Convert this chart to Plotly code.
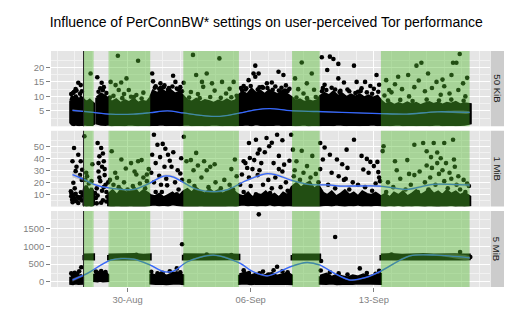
import datetime as dt
import plotly.graph_objects as go
from plotly.subplots import make_subplots

# ---------------- data (time t = day number: Aug d -> d, Sep d -> 31 + d) ----------------
BASE = dt.datetime(2011, 7, 31)

panel_labels = ["50 KiB", "1 MiB", "5 MiB"]
x_range = [25.65, 50.6]
y_ranges = [[-0.3, 25.65], [-0.2, 62.9], [-140, 1984]]
y_ticks = [[5, 10, 15, 20], [10, 20, 30, 40, 50], [0, 500, 1000, 1500]]
y_minor = [[2.5, 7.5, 12.5, 17.5, 22.5], [5, 15, 25, 35, 45, 55], [250, 750, 1250, 1750]]

# periods with PerConnBW settings active (green)
rect_start = [27.5, 28.92, 33.17, 39.35, 44.40]
rect_end = [28.07, 31.29, 36.33, 40.92, 49.44]
vline_t = 27.5

# ---- 50 KiB: dense cluster envelope (None = gap) ----
kb50_band_t = [26.77, 26.85, 26.95, 27.05, 27.15, 27.25, 27.35, 27.45, 27.55, 27.7, 27.85, 28.0, 28.07, None,
               28.25, 28.5, 28.75, 28.92, 29.1, 29.35, 29.6, 29.85, 30.1, 30.35, 30.6, 30.85, 31.1, 31.3,
               31.45, 31.7, 31.95, 32.2, 32.45, 32.7, 32.95, 33.17, 33.4, 33.65, 33.9, 34.15, 34.4, 34.65,
               34.9, 35.15, 35.4, 35.65, 35.9, 36.15, 36.35, 36.55, 36.8, 37.05, 37.3, 37.55, 37.8, 38.05,
               38.3, 38.55, 38.8, 39.05, 39.35, 39.55, 39.8, 40.05, 40.3, 40.55, 40.8, 40.95, 41.2, 41.45,
               41.7, 41.95, 42.2, 42.45, 42.7, 42.95, 43.2, 43.45, 43.7, 43.95, 44.2, 44.4, 44.65, 44.9,
               45.15, 45.4, 45.65, 45.9, 46.15, 46.4, 46.65, 46.9, 47.15, 47.4, 47.65, 47.9, 48.15, 48.4,
               48.65, 48.9, 49.15, 49.48]
kb50_band_hi = [8.5, 10.0, 9.0, 10.5, 9.5, 8.0, 9.8, 9.0, 8.5, 8.0, 8.7, 7.8, 7.5, None,
                9.5, 10.8, 10.0, 9.0, 8.0, 8.8, 7.5, 8.5, 7.8, 9.0, 7.6, 8.3, 7.9, 9.5,
                11.8, 11.0, 12.2, 11.2, 12.0, 10.8, 11.5, 10.0, 8.5, 8.0, 9.0, 7.8, 8.6, 8.2,
                7.6, 8.4, 7.9, 8.8, 8.0, 8.5, 10.5, 11.5, 10.5, 12.5, 11.0, 11.8, 10.6, 12.0,
                11.2, 10.5, 11.8, 10.8, 9.5, 8.2, 8.8, 7.9, 8.5, 8.0, 8.6, 10.0, 11.0, 10.2,
                11.5, 10.0, 10.8, 9.6, 10.5, 9.8, 10.6, 9.5, 10.2, 9.4, 10.0, 8.5, 7.2, 7.8,
                6.9, 7.5, 7.0, 7.8, 7.1, 7.6, 6.8, 7.4, 7.9, 7.2, 7.7, 7.0, 7.6, 7.3,
                7.9, 7.1, 7.5, 7.2]
kb50_band_lo = [1.0, 0.4, 0.2, 0.5, 0.3, 0.2, 0.4, 0.3, 0.5, 0.3, 0.4, 0.3, 0.6, None,
                0.8, 0.4, 0.3, 0.5, 0.2, 0.4, 0.3, 0.2, 0.5, 0.3, 0.2, 0.4, 0.3, 0.2,
                0.4, 0.3, 0.5, 0.2, 0.3, 0.4, 0.2, 0.3, 0.5, 0.2, 0.3, 0.4, 0.2, 0.3,
                0.5, 0.3, 0.2, 0.4, 0.3, 0.2, 0.4, 0.3, 0.5, 0.2, 0.6, 0.3, 0.2, 0.4,
                0.3, 0.5, 0.2, 0.3, 0.4, 0.2, 0.3, 0.5, 0.2, 0.4, 0.3, 0.2, 0.4, 0.3,
                0.2, 0.5, 0.3, 0.2, 0.4, 0.3, 0.2, 0.4, 0.3, 0.5, 0.2, 0.3, 0.4, 0.2,
                0.3, 0.5, 0.2, 0.3, 0.4, 0.2, 0.3, 0.4, 0.2, 0.3, 0.5, 0.2, 0.3, 0.4,
                0.2, 0.3, 0.4, 0.8]
# 50 KiB: scattered measurements above the cluster
kb50_t = [27.2, 27.34, 27.05, 27.4, 26.9, 27.9, 28.28, 28.53, 28.45, 28.65, 29.45, 30.6, 29.94, 29.64,
          29.04, 29.32, 29.5, 30.07, 30.36, 30.5, 29.8, 30.9, 29.2, 31.4, 31.87, 32.59, 32.72, 33.19,
          31.6, 31.45, 32.1, 32.35, 33.0, 33.72, 35.22, 33.9, 34.5, 34.23, 34.3, 34.8, 35.37, 36.03,
          33.6, 34.0, 34.95, 35.6, 35.8, 36.2, 37.16, 37.26, 36.88, 37.26, 37.45, 37.92, 38.58, 38.86,
          36.6, 37.7, 38.2, 38.4, 39.0, 39.2, 36.45, 39.9, 40.47, 39.52, 40.19, 39.7, 40.0, 40.6,
          41.04, 41.5, 41.7, 41.98, 41.35, 41.98, 41.2, 41.6, 42.3, 42.5, 42.87, 43.02, 43.5, 43.3,
          43.8, 44.15, 44.0, 44.3, 44.87, 45.38, 45.95, 46.42, 46.7, 47.08, 47.56, 48.5, 48.69, 48.88,
          48.41, 49.07, 44.6, 45.0, 45.6, 46.0, 46.3, 46.9, 47.3, 47.8, 48.0, 48.3, 48.8, 49.2,
          45.2, 46.55, 47.9, 44.7, 49.3, 31.9, 32.8, 36.7, 37.5, 38.95, 41.1, 42.1, 43.1,
          26.8, 26.95, 27.1, 27.3, 28.35, 28.6, 28.8, 31.55, 31.8, 32.05, 32.3, 32.55, 32.9, 33.1,
          36.5, 36.75, 37.0, 37.4, 37.65, 37.95, 38.25, 38.6, 38.75, 39.1, 41.05, 41.3, 41.8, 42.05,
          42.6, 42.95, 43.25, 43.6, 43.9, 44.25, 29.0, 29.7, 30.2, 30.8, 33.5, 34.1, 34.7, 35.3,
          35.9, 39.6, 40.2, 40.7, 44.8, 45.5, 46.2, 47.0, 47.7, 48.4, 49.1]
kb50_v = [14.7, 13.9, 12.5, 11.8, 11.2, 17.9, 16.6, 14.7, 12.8, 13.2, 24.0, 22.3, 16.2, 14.8,
          15.0, 13.9, 12.2, 12.2, 9.8, 10.5, 10.8, 11.3, 10.2, 17.9, 14.5, 17.1, 15.0, 14.7,
          13.5, 15.2, 13.8, 12.9, 13.2, 24.3, 23.1, 17.4, 17.9, 15.0, 13.3, 14.5, 15.0, 15.0,
          11.5, 10.8, 12.0, 11.0, 12.6, 10.2, 17.9, 16.8, 15.6, 20.6, 17.9, 14.5, 18.5, 17.4,
          13.6, 13.0, 14.8, 13.4, 13.8, 12.6, 12.9, 21.7, 17.9, 16.2, 14.5, 12.5, 11.0, 12.3,
          23.5, 23.7, 22.9, 21.2, 19.1, 16.2, 14.0, 13.0, 14.8, 12.4, 20.6, 15.0, 15.0, 12.8,
          13.6, 17.4, 12.6, 14.0, 12.2, 16.8, 17.4, 20.6, 21.6, 17.9, 15.0, 21.6, 21.6, 24.6,
          17.4, 14.5, 10.3, 11.4, 12.5, 10.0, 13.2, 11.8, 12.9, 10.6, 13.5, 11.0, 12.2, 10.0,
          14.2, 15.5, 15.8, 15.6, 16.4, 13.0, 12.7, 12.4, 13.1, 12.0, 12.9, 11.9, 11.6,
          10.8, 11.5, 12.0, 10.9, 11.6, 12.1, 11.2, 13.0, 12.6, 13.2, 12.3, 13.4, 12.5, 11.8,
          12.2, 12.8, 13.6, 12.4, 13.2, 12.9, 12.3, 12.0, 13.0, 11.9, 11.8, 12.2, 12.4, 11.5,
          11.8, 11.2, 11.9, 11.4, 10.9, 11.6, 9.6, 9.4, 9.9, 9.3, 9.6, 9.4, 9.8, 9.5,
          9.7, 9.6, 9.4, 9.8, 8.6, 8.8, 8.4, 8.9, 8.6, 8.9, 8.5]
kb50_smooth_t = [26.87, 27.9, 29.04, 30.34, 31.3, 32.27, 33.17, 34.14, 34.88, 35.6, 36.4, 37.26,
                 38.1, 39.24, 40.77, 42.64, 44.34, 45.87, 47.57, 49.44]
kb50_smooth_v = [5.2, 4.6, 3.9, 3.9, 4.4, 5.0, 4.3, 3.5, 3.1, 3.4, 4.3, 5.4,
                 5.8, 5.1, 4.8, 4.4, 4.1, 3.9, 4.7, 4.5]
kb50_smooth_se = [0.35, 0.2, 0.15, 0.15, 0.15, 0.15, 0.15, 0.15, 0.15, 0.15, 0.15, 0.15,
                  0.15, 0.15, 0.15, 0.15, 0.15, 0.15, 0.2, 0.3]

# ---- 1 MiB ----
mib1_band_t = [27.52, 27.65, 27.8, 27.95, 28.07, None,
               28.92, 29.15, 29.4, 29.65, 29.9, 30.15, 30.4, 30.65, 30.9, 31.15, 31.3, 31.55, 31.8,
               32.05, 32.3, 32.55, 32.8, 33.05, 33.17, 33.4, 33.65, 33.9, 34.15, 34.4, 34.65, 34.9,
               35.15, 35.4, 35.65, 35.9, 36.15, 36.35, 36.6, 36.85, 37.1, 37.35, 37.6, 37.85, 38.1,
               38.35, 38.6, 38.85, 39.1, 39.35, 39.6, 39.85, 40.1, 40.35, 40.6, 40.85, 41.1, 41.35,
               41.6, 41.85, 42.1, 42.35, 42.6, 42.85, 43.1, 43.35, 43.6, 43.85, 44.1, 44.4, 44.65,
               44.9, 45.15, 45.4, 45.65, 45.9, 46.15, 46.4, 46.65, 46.9, 47.15, 47.4, 47.65, 47.9,
               48.15, 48.4, 48.65, 48.9, 49.15, 49.45]
mib1_band_hi = [14, 17, 12, 15, 11, None,
                10, 13, 9, 14, 11, 12, 15, 10, 13, 11, 9, 8, 10,
                7, 9, 11, 8, 10, 12, 14, 11, 15, 12, 10, 14, 11,
                13, 10, 12, 15, 11, 9, 8, 11, 7, 10, 9, 12, 8,
                10, 7, 11, 9, 16, 19, 15, 18, 20, 14, 17, 11, 9,
                12, 8, 10, 13, 9, 11, 8, 12, 10, 9, 11, 8, 10,
                7, 11, 9, 12, 8, 10, 13, 9, 11, 14, 10, 12, 9,
                13, 10, 12, 9, 11, 8]
mib1_band_lo = [1.5, 0.8, 1.2, 0.6, 1.8, None,
                1.0, 0.5, 1.2, 0.7, 0.4, 1.1, 0.6, 0.9, 0.5, 1.2, 1.5, 2.0, 1.2,
                1.8, 1.0, 2.2, 1.4, 0.8, 0.6, 0.4, 0.9, 0.5, 1.1, 0.6, 0.8, 0.4,
                1.0, 0.5, 0.7, 1.2, 0.6, 1.5, 2.0, 1.1, 1.8, 0.9, 1.6, 1.2, 2.1,
                1.0, 1.7, 0.8, 1.4, 0.6, 0.4, 0.9, 0.5, 1.0, 0.7, 0.4, 1.3, 1.8,
                1.0, 2.0, 1.2, 0.8, 1.6, 1.1, 1.9, 0.9, 1.4, 1.0, 1.7, 1.2, 0.8,
                1.5, 1.0, 1.8, 0.7, 1.3, 0.9, 1.6, 1.1, 0.8, 1.4, 1.0, 0.6, 1.2,
                0.9, 1.5, 0.7, 1.1, 0.8, 1.3]
mib1_t = [26.8, 26.82, 26.85, 26.9, 26.95, 26.78, 26.88, 27.0, 27.05, 27.1, 27.15, 27.2, 27.3, 27.35,
          27.4, 27.45, 27.25, 26.92, 26.96, 27.2, 26.87, 27.34, 27.05, 27.3, 27.1, 27.4, 27.0, 27.42,
          27.55, 27.6, 27.7, 27.8, 27.95, 28.0, 27.65,
          28.3, 28.5, 28.4, 28.65, 28.55, 28.35, 28.7, 28.45, 28.75, 28.3, 28.6, 28.2, 28.8, 28.25,
          28.5, 28.85, 28.15, 28.4, 28.7, 28.6, 28.35, 28.9, 28.8, 28.55, 28.25, 28.65,
          29.1, 29.65, 30.6, 30.2, 30.8, 29.9, 30.4, 29.4, 30.5, 31.1, 31.1, 29.2, 29.5, 29.8, 30.0,
          30.3, 30.7, 31.0, 29.3, 29.0, 30.9, 31.2,
          31.5, 31.7, 31.4, 32.0, 32.3, 32.4, 32.6, 31.6, 32.1, 32.5, 31.8, 32.2, 32.25, 31.95, 32.4,
          32.3, 32.8, 33.0, 31.35, 31.5, 31.9, 32.7, 32.9, 33.1, 31.6, 32.0, 32.6, 31.4, 32.85, 33.05,
          32.15, 31.85,
          33.2, 33.9, 33.35, 33.6, 34.0, 34.35, 34.7, 34.95, 33.75, 34.5, 36.1, 35.9, 34.2, 33.5, 35.0,
          35.5, 35.8, 36.2, 33.8, 34.6, 35.3, 36.0,
          36.9, 37.3, 37.9, 38.5, 39.3, 38.2, 38.8, 38.05, 37.5, 37.4, 36.95, 37.2, 36.7, 37.6, 38.3,
          38.9, 36.6, 36.8, 37.1, 37.5, 38.6, 38.8, 39.2, 36.5, 36.9, 37.4, 38.0, 38.4, 39.0, 36.4,
          37.0, 37.7, 38.2, 38.7, 39.1, 36.6, 37.3, 38.1, 38.9, 37.8, 38.6,
          39.4, 39.9, 40.5, 39.6, 40.2, 39.5, 40.0, 40.7, 40.4, 39.8, 40.85, 39.45,
          40.95, 41.2, 41.5, 41.9, 42.2, 41.1, 40.95, 41.6, 42.0, 42.3, 42.87, 42.45, 43.3, 43.6, 43.8,
          44.0, 44.2, 43.4, 43.7, 42.5, 42.4, 42.8, 43.1, 43.5, 44.1, 44.3, 41.4, 41.8, 42.6, 43.9,
          44.25, 44.35,
          44.55, 44.5, 45.2, 45.9, 46.3, 46.8, 47.4, 48.0, 48.5, 47.0, 47.6, 47.25, 47.8, 48.1, 47.0,
          47.3, 46.6, 46.3, 47.9, 48.3, 48.6, 48.8, 49.1, 49.3, 44.8, 45.1, 45.5, 45.8, 46.1, 46.5,
          46.9, 47.2, 47.5, 47.7, 48.0, 48.2, 48.4, 48.7, 48.9, 49.2, 49.4, 45.3, 44.7, 45.6, 46.0,
          47.1, 48.55, 47.6]
mib1_v = [8.5, 11, 5.5, 7.2, 9.5, 12.5, 3.5, 6, 10.5, 4.2, 8, 2.8, 7.5, 11.8,
          5, 9.2, 6.5, 19.7, 48.6, 43, 37.6, 37.6, 29.3, 26, 33, 22, 15, 30.5,
          58.3, 22, 25, 19, 21, 35, 28,
          52.7, 48.6, 41.7, 37.6, 33, 29, 26, 21, 18, 9, 5, 7, 12, 15,
          3, 8, 11, 24, 31, 44, 36, 20, 4, 13, 2.5, 16,
          45.9, 39, 37.6, 36, 38.5, 31.5, 29, 23.8, 26.5, 26.5, 21, 18, 16, 20, 14,
          17, 19, 15, 28, 22, 24, 31,
          59.6, 51.3, 43, 52, 43, 38, 45, 36, 33, 33, 25.5, 23, 17.5, 12, 8,
          4, 10, 27.4, 28, 20, 18, 20, 14, 22, 12, 6, 3, 7, 30, 40,
          48, 41,
          58, 44.5, 37.6, 38.5, 34, 37.6, 33, 35, 30, 30, 39, 31, 24, 21, 20,
          22, 18, 25, 17, 16, 15, 14,
          52.7, 55.4, 56.9, 59.6, 59.6, 53, 55, 50, 47.2, 44, 40.3, 38.5, 36, 36, 36,
          34.7, 37.6, 31.9, 31, 30, 31, 29, 38, 26.5, 24, 26, 22, 24, 20, 18,
          17, 18, 15, 16, 13, 12, 10, 11, 9, 45, 42,
          47.2, 46.3, 42, 37.6, 33.5, 30, 28, 27, 24, 22, 20, 25,
          52.7, 49, 43, 39, 35, 39, 31, 28, 25, 22, 55.4, 47.2, 42, 39.5, 37,
          33.5, 37, 30.7, 28, 32, 23, 20, 18, 16, 19, 24, 18, 15, 14, 13,
          28.5, 21,
          50, 46, 37.6, 38.5, 51.3, 52.7, 52.7, 52.7, 55.4, 45.9, 44.8, 41, 40, 36, 34,
          32, 29, 26, 30, 28, 33, 25, 22, 19, 20, 16, 23, 14, 18, 12,
          20, 24, 18, 27, 21, 15, 23, 18, 14, 12, 17, 30, 12, 9, 27,
          14, 39, 36]
mib1_smooth_t = [26.87, 27.52, 28.09, 28.85, 30.36, 31.12, 32.06, 32.62, 33.19, 33.95, 34.99, 35.74,
                 36.69, 37.82, 38.39, 39.34, 40.28, 41.41, 42.07, 44.34, 45.86, 47.36, 49.26, 49.44]
mib1_smooth_v = [26.4, 22.4, 18.3, 15.5, 14.1, 18.3, 25.2, 24.4, 19.7, 14.1, 12.2, 14.1,
                 21.1, 27.1, 26.5, 21.6, 18.3, 17.8, 16.9, 16.9, 14.1, 18.3, 17.8, 17.6]
mib1_smooth_se = [2.2, 1.4, 1.0, 0.9, 0.8, 0.9, 1.0, 1.0, 0.9, 0.8, 0.8, 0.8,
                  0.9, 1.0, 1.0, 0.9, 0.8, 0.8, 0.8, 0.8, 0.8, 0.9, 1.2, 1.4]

# ---- 5 MiB ----
mib5_band_t = [26.77, 26.9, 27.05, 27.2, 27.35, 27.45, None,
               27.52, 27.7, 27.9, 28.07, None,
               28.12, 28.3, 28.45, 28.6, 28.75, 28.88, None,
               28.92, 29.4, 29.9, 30.4, 30.9, 31.29, None,
               31.32, 31.6, 31.9, 32.2, 32.5, 32.8, 33.14, None,
               33.17, 33.8, 34.4, 35.0, 35.6, 36.33, None,
               36.36, 36.7, 37.0, 37.3, 37.6, 37.9, 38.2, 38.5, 38.8, 39.1, 39.32, None,
               39.35, 39.8, 40.3, 40.92, None,
               40.95, 41.3, 41.6, 41.9, 42.2, 42.5, 42.8, 43.1, 43.4, 43.7, 44.0, 44.38, None,
               44.40, 45.0, 45.6, 46.2, 46.8, 47.4, 48.0, 48.6, 49.2, 49.42]
mib5_band_hi = [150, 120, 200, 140, 180, 130, None,
                755, 760, 750, 758, None,
                230, 180, 250, 200, 260, 190, None,
                755, 760, 752, 765, 750, 757, None,
                220, 170, 250, 160, 210, 260, 180, None,
                758, 752, 765, 755, 760, 750, None,
                200, 260, 170, 220, 150, 190, 240, 160, 210, 250, 180, None,
                757, 762, 750, 755, None,
                160, 220, 130, 190, 150, 110, 170, 140, 200, 150, 180, 210, None,
                755, 765, 750, 760, 770, 755, 765, 760, 752, 755]
mib5_band_lo = [-40, -50, -30, -45, -40, -35, None,
                648, 640, 652, 645, None,
                40, 30, 45, 25, 35, 40, None,
                645, 640, 650, 638, 648, 644, None,
                -30, -45, -35, -50, -40, -30, -45, None,
                642, 650, 640, 646, 638, 648, None,
                -40, -30, -50, -35, -45, -40, -30, -50, -35, -40, -45, None,
                645, 640, 650, 644, None,
                -35, -45, -30, -50, -40, -35, -45, -30, -40, -50, -35, -40, None,
                645, 640, 650, 642, 648, 640, 652, 645, 640, 648]
mib5_t = [26.8, 27.37, 27.0, 27.25, 26.9, 27.15,
          28.5, 28.75, 28.3, 28.2, 28.6,
          31.35, 32.8, 32.0, 32.4, 31.7, 33.0, 33.1, 32.6,
          36.6, 37.46, 37.5, 37.7, 38.5, 38.3, 38.8, 39.1, 36.9, 38.0,
          41.0, 40.98, 41.8, 43.2, 42.0, 42.5, 43.6, 44.1, 41.5, 44.3,
          48.9, 45.0, 30.5, 34.5, 35.9, 49.48]
mib5_v = [240, 410, 260, 300, 190, 220,
          305, 280, 260, 290, 250,
          285, 380, 260, 300, 240, 270, 1055, 230,
          330, 1890, 240, 290, 425, 330, 300, 270, 250, 210,
          585, 320, 1258, 380, 240, 210, 250, 230, 270, 310,
          840, 770, 760, 770, 750, 700]
mib5_smooth_t = [26.87, 27.72, 29.04, 30.34, 31.3, 32.04, 32.61, 33.4, 34.88, 36.41, 36.97, 37.54,
                 37.94, 38.5, 39.24, 40.2, 40.94, 41.8, 42.64, 43.5, 44.34, 46.04, 47.57, 49.44]
mib5_smooth_v = [55, 240, 610, 640, 470, 290, 305, 565, 750, 520, 330, 210,
                 170, 260, 425, 545, 470, 230, 55, 120, 290, 730, 750, 675]
mib5_smooth_se = [45, 30, 22, 22, 22, 22, 22, 22, 22, 22, 22, 22,
                  22, 22, 22, 22, 22, 22, 22, 22, 22, 22, 25, 40]

title_text = "Influence of PerConnBW* settings on user-perceived Tor performance"


# ---------------- helpers ----------------
def to_dt(d):
    return None if d is None else BASE + dt.timedelta(days=d)


def band_polygon(ts, lo, hi):
    xs, ys = [], []
    seg = []
    for t, l, h in list(zip(ts, lo, hi)) + [(None, None, None)]:
        if t is None:
            if seg:
                st = [s[0] for s in seg]
                sl = [s[1] for s in seg]
                sh = [s[2] for s in seg]
                xs += st + st[::-1] + [st[0], None]
                ys += sh + sl[::-1] + [sh[0], None]
            seg = []
        else:
            seg.append((t, l, h))
    return [to_dt(x) for x in xs], ys


# ---------------- figure ----------------
fig = make_subplots(rows=3, cols=1, shared_xaxes=True, vertical_spacing=0.02)

panels = [
    (kb50_band_t, kb50_band_lo, kb50_band_hi, kb50_t, kb50_v, kb50_smooth_t, kb50_smooth_v, kb50_smooth_se),
    (mib1_band_t, mib1_band_lo, mib1_band_hi, mib1_t, mib1_v, mib1_smooth_t, mib1_smooth_v, mib1_smooth_se),
    (mib5_band_t, mib5_band_lo, mib5_band_hi, mib5_t, mib5_v, mib5_smooth_t, mib5_smooth_v, mib5_smooth_se),
]

for i, (bt, blo, bhi, pt, pv, st, sv, se) in enumerate(panels):
    row = i + 1
    bx, by = band_polygon(bt, blo, bhi)
    fig.add_trace(go.Scatter(x=bx, y=by, mode="lines", fill="toself", fillcolor="black",
                             line=dict(color="black", width=3), hoverinfo="skip"), row=row, col=1)
    fig.add_trace(go.Scatter(x=[to_dt(t) for t in pt], y=pv, mode="markers",
                             marker=dict(color="black", size=4.6), hoverinfo="skip"), row=row, col=1)
    up = [v + e for v, e in zip(sv, se)]
    dn = [v - e for v, e in zip(sv, se)]
    rx = [to_dt(t) for t in st] + [to_dt(t) for t in st[::-1]]
    fig.add_trace(go.Scatter(x=rx, y=up + dn[::-1], mode="lines", fill="toself",
                             fillcolor="rgba(153,153,153,0.45)", line=dict(width=0, shape="spline"),
                             hoverinfo="skip"), row=row, col=1)
    fig.add_trace(go.Scatter(x=[to_dt(t) for t in st], y=sv, mode="lines",
                             line=dict(color="#3366FF", width=1.3, shape="spline", smoothing=0.8),
                             hoverinfo="skip"), row=row, col=1)

# geometry (pixels): plot area y 51..287, x 51..490
plot_w = 518 - 51 - 28
domains = [[0.6809, 1.0], [0.3407, 0.6619], [0.0, 0.3220]]

shapes = []
annotations = []
for i in range(3):
    xa = "x" if i == 0 else f"x{i+1}"
    ya = "y" if i == 0 else f"y{i+1}"
    for s, e in zip(rect_start, rect_end):
        shapes.append(dict(type="rect", xref=xa, yref=f"{ya} domain", x0=to_dt(s), x1=to_dt(e),
                           y0=0, y1=1, fillcolor="rgba(80,185,45,0.42)", line=dict(width=0),
                           layer="above"))
    shapes.append(dict(type="line", xref=xa, yref=f"{ya} domain", x0=to_dt(vline_t), x1=to_dt(vline_t),
                       y0=0, y1=1, line=dict(color="#222222", width=1), layer="above"))
    shapes.append(dict(type="rect", xref="paper", yref=f"{ya} domain", x0=1 + 0.6 / plot_w,
                       x1=1 + 14 / plot_w, y0=0, y1=1, fillcolor="#CCCCCC", line=dict(width=0),
                       layer="below"))
    annotations.append(dict(text=panel_labels[i], xref="paper", yref=f"{ya} domain",
                            x=1 + 7.3 / plot_w, y=0.5, showarrow=False, textangle=90,
                            xanchor="center", yanchor="middle",
                            font=dict(family="Liberation Sans, Arial, sans-serif", size=9.6,
                                      color="#1A1A1A")))

fig.update_layout(
    width=518, height=324,
    margin=dict(l=51, r=28, t=51, b=37),
    paper_bgcolor="white", plot_bgcolor="#E5E5E5",
    showlegend=False,
    shapes=shapes, annotations=annotations,
    title=dict(text=title_text, x=0.514, xanchor="center", xref="container",
               y=1 - 22 / 324, yanchor="middle", yref="container",
               font=dict(family="Liberation Sans, Arial, sans-serif", size=14, color="black")),
)

tick_font = dict(family="Liberation Sans, Arial, sans-serif", size=9.4, color="#7F7F7F")
for i in range(3):
    row = i + 1
    fig.update_xaxes(
        row=row, col=1, type="date",
        range=[to_dt(x_range[0]), to_dt(x_range[1])],
        tick0=to_dt(30), dtick=7 * 86400000, tickformat="%d-%b",
        showgrid=True, gridcolor="white", gridwidth=1.1,
        minor=dict(tick0=to_dt(30), dtick=86400000, showgrid=True, gridcolor="#F2F2F2",
                   gridwidth=0.7, ticks=""),
        ticks="outside" if row == 3 else "", ticklen=4, tickcolor="#7F7F7F", tickwidth=1,
        showticklabels=(row == 3), tickfont=tick_font,
        zeroline=False, showline=False,
    )
    fig.update_yaxes(
        row=row, col=1, domain=domains[i], range=y_ranges[i],
        tickmode="array", tickvals=y_ticks[i], ticktext=[str(v) for v in y_ticks[i]],
        showgrid=True, gridcolor="white", gridwidth=1.1,
        minor=dict(tickmode="array", tickvals=y_minor[i], showgrid=True, gridcolor="#F2F2F2",
                   gridwidth=0.7, ticks=""),
        ticks="outside", ticklen=4, tickcolor="#7F7F7F", tickwidth=1,
        tickfont=tick_font, zeroline=False, showline=False,
    )

fig.write_html("out.html")
